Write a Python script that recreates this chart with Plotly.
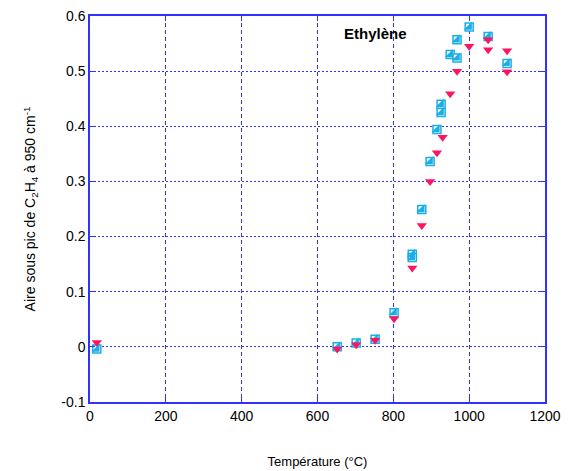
import plotly.graph_objects as go

# Cyan half-filled squares
sq_x = [18, 652, 702, 752, 802, 850, 850, 875, 897, 915, 926, 926, 950, 968, 968, 1000, 1050, 1100]
sq_y = [-0.004, 0.0, 0.007, 0.014, 0.062, 0.168, 0.162, 0.249, 0.336, 0.394, 0.425, 0.44, 0.53, 0.557, 0.524, 0.58, 0.563, 0.514]

# Red down triangles
tr_x = [18, 652, 702, 752, 802, 850, 875, 897, 915, 930, 950, 968, 1000, 1050, 1050, 1100, 1100]
tr_y = [0.008, -0.004, 0.004, 0.012, 0.051, 0.143, 0.22, 0.30, 0.352, 0.38, 0.459, 0.50, 0.545, 0.557, 0.539, 0.537, 0.499]

x_ticks = [0, 200, 400, 600, 800, 1000, 1200]
y_ticks = [-0.1, 0, 0.1, 0.2, 0.3, 0.4, 0.5, 0.6]
y_labels = ["-0.1", "0", "0.1", "0.2", "0.3", "0.4", "0.5", "0.6"]

CYAN = "#1aaee6"
RED = "#ff1463"
BLUE = "#3030ff"

fig = go.Figure()
fig.add_trace(go.Scatter(x=sq_x, y=sq_y, mode="markers",
                         marker=dict(symbol="square", size=8, color="white",
                                     line=dict(color=CYAN, width=1.5))))
fig.add_trace(go.Scatter(x=sq_x, y=sq_y, mode="markers",
                         marker=dict(symbol="triangle-se", size=9, color=CYAN,
                                     line=dict(width=0))))
fig.add_trace(go.Scatter(x=tr_x, y=tr_y, mode="markers",
                         marker=dict(symbol="triangle-down", size=9, color=RED,
                                     line=dict(width=0))))

axis_common = dict(showline=True, linecolor=BLUE, linewidth=1.5, mirror="ticks",
                   ticks="inside", ticklen=5, tickcolor=BLUE, automargin=False,
                   ticklabeloverflow="allow", showgrid=True, gridcolor=BLUE,
                   zeroline=False, tickfont=dict(family="Liberation Sans, Arial", size=14, color="black"))

fig.update_layout(
    width=569, height=471,
    margin=dict(l=90, r=24, t=16, b=69),
    paper_bgcolor="white", plot_bgcolor="white",
    showlegend=False,
    font=dict(family="Liberation Sans, Arial", color="black"),
    xaxis=dict(range=[0, 1200], tickvals=x_ticks, griddash="4px,3px", gridwidth=1.3,
               title=dict(text="Température (°C)", font=dict(size=13), standoff=34),
               **axis_common),
    yaxis=dict(range=[-0.1, 0.6], tickvals=y_ticks, ticktext=y_labels,
               griddash="2px,2px", gridwidth=1,
               title=dict(text="Aire sous pic de C<sub>2</sub>H<sub>4</sub> à 950 cm<sup>-1</sup>",
                          font=dict(size=14), standoff=22),
               **axis_common),
    annotations=[dict(x=752, y=0.568, xref="x", yref="y", text="<b>Ethylène</b>",
                      showarrow=False, font=dict(size=15, color="black"))],
)

fig.write_html("out.html", config={"displayModeBar": False},
               post_script="document.body.style.margin='0';document.body.style.overflow='hidden';")
